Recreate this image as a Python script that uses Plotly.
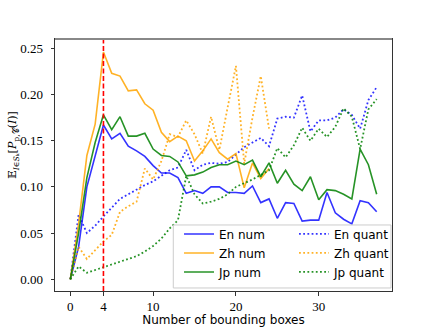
import plotly.graph_objects as go

# x = numero de cajas
x_en = list(range(38))
x_zh = list(range(25))
x_jp = list(range(38))

en_num = [0.0, 0.035, 0.100, 0.135, 0.167, 0.152, 0.158, 0.144, 0.139, 0.133, 0.123, 0.115,
          0.115, 0.110, 0.093, 0.096, 0.093, 0.100, 0.100, 0.094, 0.094, 0.093, 0.101, 0.083,
          0.087, 0.066, 0.083, 0.082, 0.063, 0.064, 0.064, 0.094, 0.072, 0.065, 0.060, 0.085,
          0.083, 0.073]
en_quant = [0.0, 0.070, 0.050, 0.058, 0.068, 0.078, 0.087, 0.092, 0.097, 0.102, 0.106, 0.112,
            0.118, 0.121, 0.140, 0.118, 0.124, 0.126, 0.125, 0.127, 0.135, 0.143, 0.148, 0.153,
            0.144, 0.174, 0.176, 0.175, 0.199, 0.160, 0.172, 0.172, 0.175, 0.184, 0.178, 0.163,
            0.194, 0.208]
zh_num = [0.0, 0.060, 0.134, 0.168, 0.246, 0.223, 0.220, 0.204, 0.205, 0.190, 0.183, 0.159,
          0.149, 0.155, 0.150, 0.128, 0.139, 0.152, 0.137, 0.130, 0.136, 0.099, 0.126, 0.109,
          0.120]
zh_quant = [0.0, 0.035, 0.022, 0.032, 0.041, 0.048, 0.073, 0.079, 0.084, 0.120, 0.108, 0.128,
            0.157, 0.154, 0.172, 0.157, 0.136, 0.176, 0.140, 0.186, 0.231, 0.125, 0.175, 0.220,
            0.163]
jp_num = [0.0, 0.050, 0.110, 0.148, 0.178, 0.162, 0.176, 0.155, 0.155, 0.158, 0.141, 0.134,
          0.133, 0.127, 0.112, 0.113, 0.116, 0.121, 0.124, 0.124, 0.128, 0.124, 0.129, 0.111,
          0.126, 0.104, 0.118, 0.103, 0.096, 0.111, 0.086, 0.097, 0.096, 0.092, 0.087, 0.141,
          0.124, 0.092]
jp_quant = [0.0, 0.014, 0.007, 0.010, 0.013, 0.016, 0.019, 0.022, 0.025, 0.030, 0.036, 0.044,
            0.055, 0.064, 0.112, 0.092, 0.082, 0.084, 0.087, 0.092, 0.100, 0.104, 0.108, 0.113,
            0.118, 0.142, 0.132, 0.145, 0.164, 0.150, 0.163, 0.154, 0.165, 0.185, 0.176, 0.141,
            0.184, 0.195]

x_ticks = [0, 4, 10, 20, 30]
y_ticks = [0.0, 0.05, 0.10, 0.15, 0.20, 0.25]
corte = 4

BLUE = 'rgba(0,0,255,0.8)'
ORANGE = 'rgba(255,165,0,0.85)'
GREEN = 'rgba(0,128,0,0.85)'

fig = go.Figure()
series = [
    ('En num', x_en, en_num, BLUE, 'solid'),
    ('En quant', x_en, en_quant, BLUE, 'dot'),
    ('Zh num', x_zh, zh_num, ORANGE, 'solid'),
    ('Zh quant', x_zh, zh_quant, ORANGE, 'dot'),
    ('Jp num', x_jp, jp_num, GREEN, 'solid'),
    ('Jp quant', x_jp, jp_quant, GREEN, 'dot'),
]
for nombre, xs, ys, col, dash in series:
    if dash == 'solid':
        ln = dict(color=col, width=1.6)
    else:
        ln = dict(color=col, width=1.8, dash='1.8px,2.4px')
    fig.add_trace(go.Scatter(x=xs, y=ys, name=nombre, mode='lines', line=ln))

fig.add_shape(type='line', x0=corte, x1=corte, y0=0, y1=1, yref='paper',
              line=dict(color='red', width=1.6, dash='5px,2.5px'))
# borde superior gris
fig.add_shape(type='line', x0=0, x1=1, y0=1, y1=1, xref='paper', yref='paper',
              line=dict(color='#888888', width=2))
# caja de la leyenda (estilo matplotlib)
fig.add_shape(type='rect', x0=0.351, x1=0.997, y0=0.012, y1=0.262,
              xref='paper', yref='paper', layer='above',
              fillcolor='rgba(255,255,255,0.85)', line=dict(color='#cccccc', width=1))

# titulo del eje y como anotacion
fig.add_annotation(
    text='𝔼<sub><i>I</i>∈<i>S</i>ₖ</sub>[<i>P</i><sub>p,𝒞</sub>(<i>I</i>)]',
    x=-0.123, y=0.579, xref='paper', yref='paper', textangle=-90,
    showarrow=False, xanchor='center', yanchor='middle',
    font=dict(family='DejaVu Serif, serif', size=11, color='black')
)

tick_font = dict(family='Liberation Serif, serif', size=13, color='black')
fig.update_layout(
    width=436, height=327,
    margin=dict(l=54.5, r=44, t=39, b=36),
    plot_bgcolor='white', paper_bgcolor='white',
    font=dict(family='DejaVu Sans', size=12, color='black'),
    legend=dict(orientation='h', x=0.368, y=0.018, xanchor='left', yanchor='bottom',
                entrywidth=70, entrywidthmode='pixels',
                bgcolor='rgba(0,0,0,0)', borderwidth=0,
                font=dict(family='DejaVu Sans', size=12), tracegroupgap=0),
)
fig.update_xaxes(
    range=[-1.85, 38.85], tickvals=x_ticks, ticktext=[str(t) for t in x_ticks],
    showgrid=False, zeroline=False, showline=True, linecolor='#333333', linewidth=1,
    mirror=True, ticks='outside', ticklen=3.5, tickcolor='#333333', tickfont=tick_font,
    automargin=False,
    title=dict(text='Number of bounding boxes', font=dict(family='DejaVu Sans', size=12),
               standoff=4)
)
fig.update_yaxes(
    range=[-0.0127, 0.2601], tickvals=y_ticks, ticktext=['%.2f' % t for t in y_ticks],
    showgrid=False, zeroline=False, showline=True, linecolor='#333333', linewidth=1,
    mirror=True, ticks='outside', ticklen=3.5, tickcolor='#333333', tickfont=tick_font,
    ticklabelstandoff=5, automargin=False
)

fig.write_html("out.html", config={'displayModeBar': False},
               post_script="document.body.style.margin='0';")
